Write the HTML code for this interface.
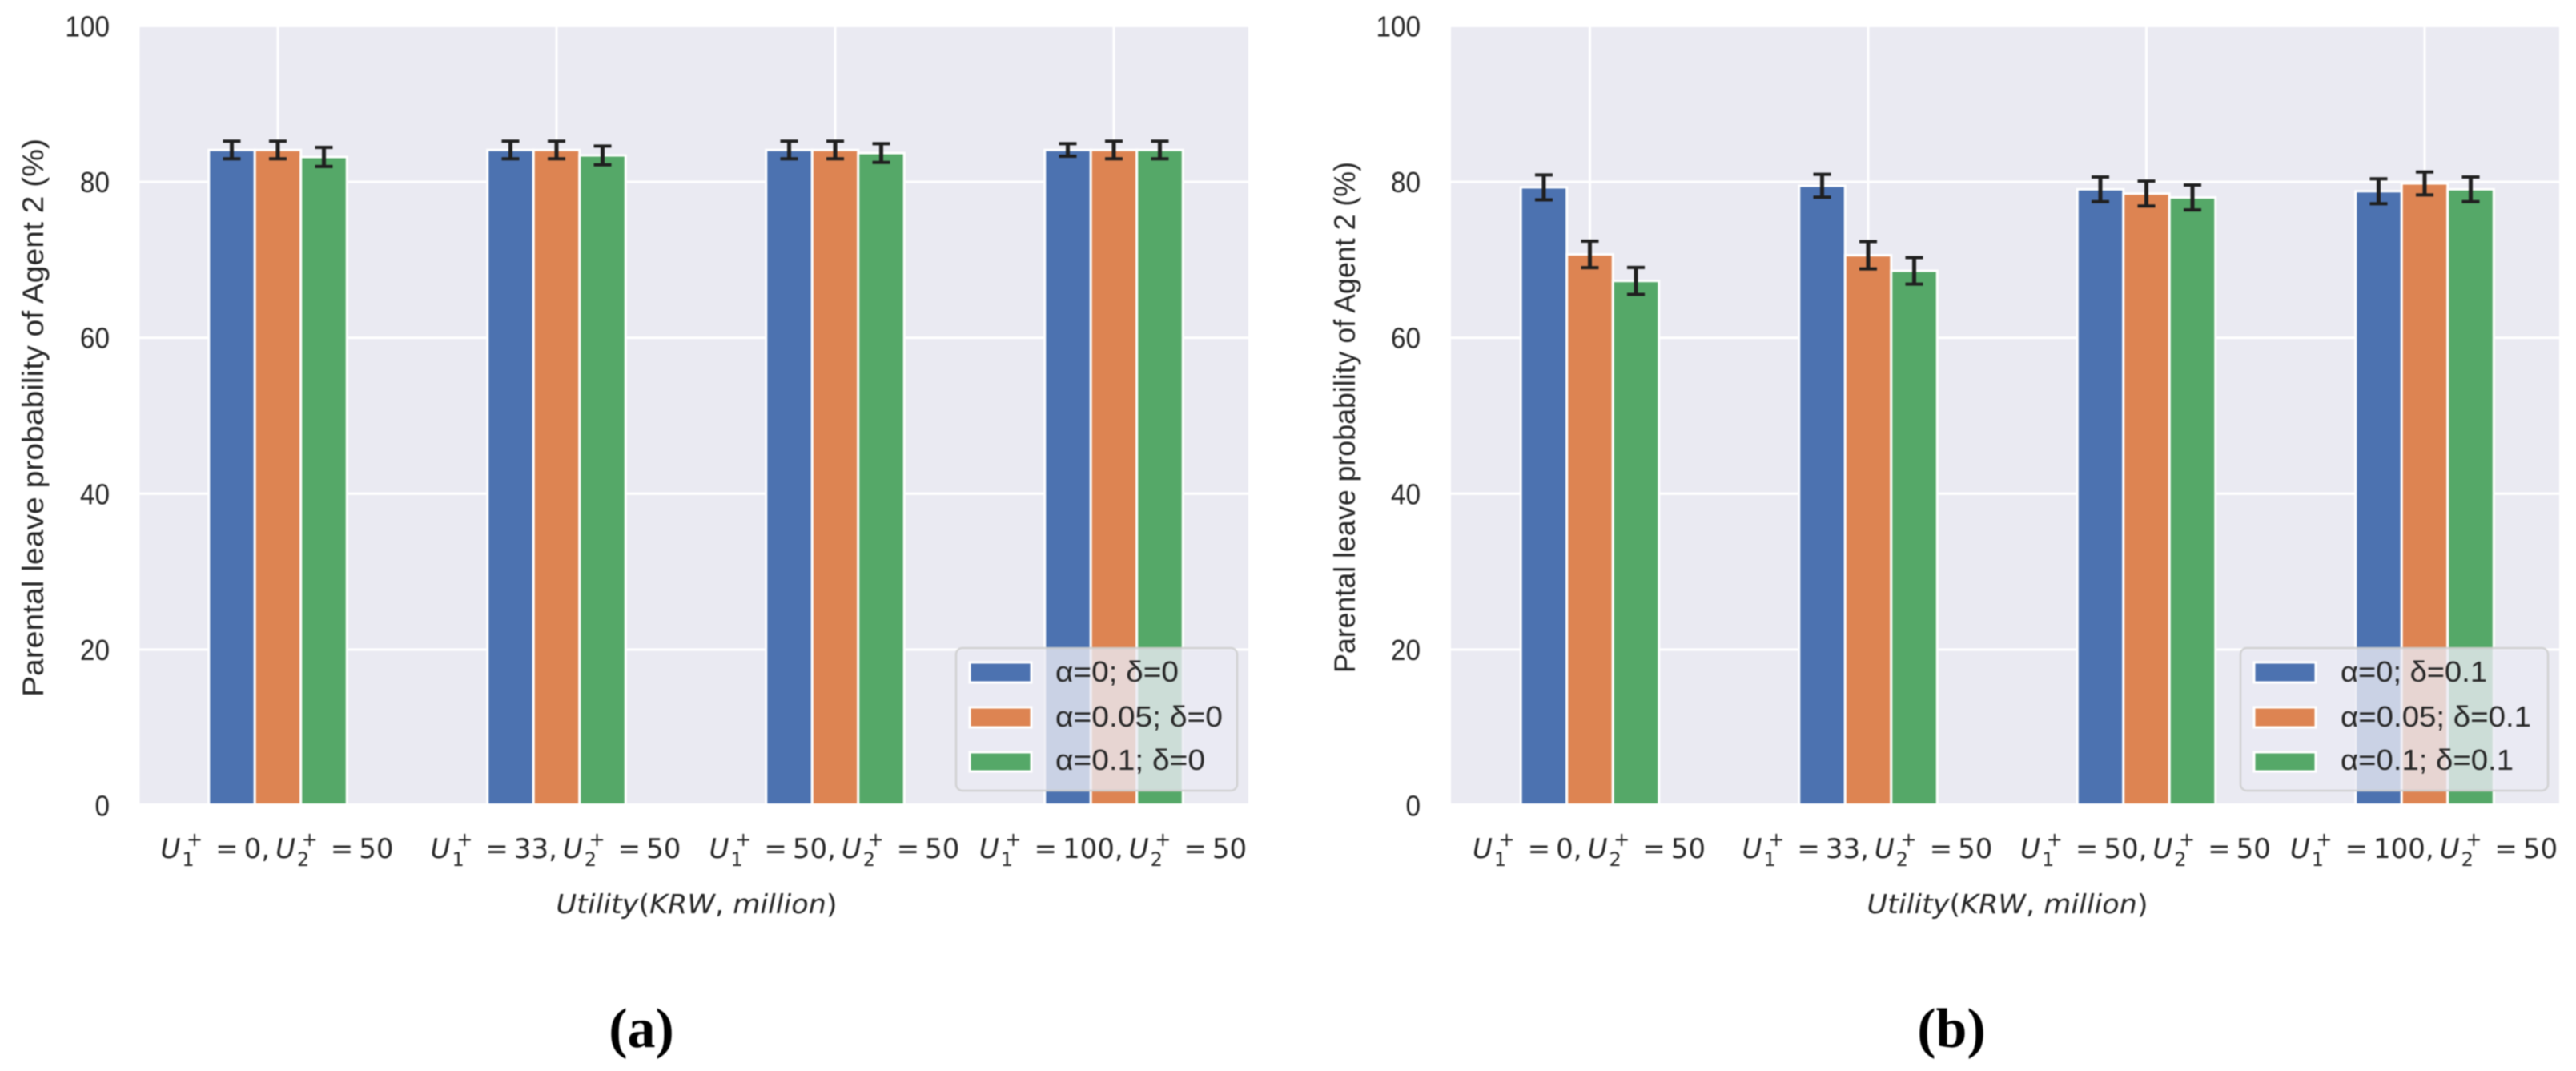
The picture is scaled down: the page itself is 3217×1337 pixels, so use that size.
<!DOCTYPE html>
<html lang="en">
<head>
<meta charset="utf-8">
<title>Parental leave probability of Agent 2</title>
<style>
html,body{margin:0;padding:0;background:#fff;width:3217px;height:1337px;overflow:hidden}
svg{display:block;filter:blur(0.9px)}
.sans{font-family:"Liberation Sans",Arial,sans-serif;fill:#262626}
.deja{font-family:"DejaVu Sans",sans-serif;fill:#262626}
.cap{font-family:"Liberation Serif",serif;font-weight:bold;fill:#000;font-size:70px}
.leg{font-size:36px}
.yt{font-size:37px}
</style>
</head>
<body>
<svg id="fig" xmlns="http://www.w3.org/2000/svg" width="3217" height="1337" viewBox="0 0 3217 1337">
  <defs>
    <clipPath id="clip-a"><rect x="174.5" y="33" width="1384.5" height="970"/></clipPath>
    <clipPath id="clip-b"><rect x="1812" y="33" width="1384" height="970"/></clipPath>
  </defs>

  <g id="panel-a">
    <g id="plot-a"></g>
    <g>
      <rect x="1194" y="809" width="351" height="178" rx="8" fill="#eaeaf2" fill-opacity="0.8" stroke="#cccccc" stroke-opacity="0.85" stroke-width="2.5"/>
      <rect x="1211" y="827" width="77" height="25" fill="#4c72b0" stroke="#fff" stroke-width="3"/>
      <rect x="1211" y="883" width="77" height="25" fill="#dd8452" stroke="#fff" stroke-width="3"/>
      <rect x="1211" y="939" width="77" height="24" fill="#55a868" stroke="#fff" stroke-width="3"/>
      <text class="sans leg" x="1318" y="851" textLength="154" lengthAdjust="spacingAndGlyphs">α=0; δ=0</text>
      <text class="sans leg" x="1318" y="907" textLength="209" lengthAdjust="spacingAndGlyphs">α=0.05; δ=0</text>
      <text class="sans leg" x="1318" y="961" textLength="187" lengthAdjust="spacingAndGlyphs">α=0.1; δ=0</text>
    </g>
    <text class="sans yt" transform="translate(54,870) rotate(-90)" x="0" y="0" textLength="697" lengthAdjust="spacingAndGlyphs">Parental leave probability of Agent 2 (%)</text>
    <text class="deja" x="870" y="1140" font-size="33" text-anchor="middle" textLength="351" lengthAdjust="spacingAndGlyphs"><tspan font-style="italic">Utility</tspan>(<tspan font-style="italic">KRW</tspan>, <tspan font-style="italic">million</tspan>)</text>
    <text class="cap" x="801" y="1307" text-anchor="middle">(a)</text>
  </g>

  <g id="panel-b">
    <g id="plot-b"></g>
    <g>
      <rect x="2798" y="809" width="384" height="178" rx="8" fill="#eaeaf2" fill-opacity="0.8" stroke="#cccccc" stroke-opacity="0.85" stroke-width="2.5"/>
      <rect x="2815" y="827" width="77" height="25" fill="#4c72b0" stroke="#fff" stroke-width="3"/>
      <rect x="2815" y="883" width="77" height="25" fill="#dd8452" stroke="#fff" stroke-width="3"/>
      <rect x="2815" y="939" width="77" height="24" fill="#55a868" stroke="#fff" stroke-width="3"/>
      <text class="sans leg" x="2923" y="851" textLength="183" lengthAdjust="spacingAndGlyphs">α=0; δ=0.1</text>
      <text class="sans leg" x="2923" y="907" textLength="238" lengthAdjust="spacingAndGlyphs">α=0.05; δ=0.1</text>
      <text class="sans leg" x="2923" y="961" textLength="216" lengthAdjust="spacingAndGlyphs">α=0.1; δ=0.1</text>
    </g>
    <text class="sans yt" transform="translate(1692,840) rotate(-90)" x="0" y="0" textLength="638" lengthAdjust="spacingAndGlyphs">Parental leave probability of Agent 2 (%)</text>
    <text class="deja" x="2507" y="1140" font-size="33" text-anchor="middle" textLength="351" lengthAdjust="spacingAndGlyphs"><tspan font-style="italic">Utility</tspan>(<tspan font-style="italic">KRW</tspan>, <tspan font-style="italic">million</tspan>)</text>
    <text class="cap" x="2437" y="1307" text-anchor="middle">(b)</text>
  </g>
</svg>

<script>
// Chart data
const categoriesU1 = ['0', '33', '50', '100'];
const categoriesU2 = ['50', '50', '50', '50'];
const yTickValues = [0, 20, 40, 60, 80, 100];

const panelAAlpha0 = [84.1, 84.1, 84.1, 84.1];
const panelAAlpha005 = [84.1, 84.1, 84.1, 84.1];
const panelAAlpha01 = [83.2, 83.4, 83.7, 84.1];
const panelAErrAlpha0 = [1.13, 1.13, 1.13, 0.8];
const panelAErrAlpha005 = [1.13, 1.13, 1.13, 1.13];
const panelAErrAlpha01 = [1.23, 1.2, 1.2, 1.13];

const panelBAlpha0 = [79.3, 79.5, 79.05, 78.8];
const panelBAlpha005 = [70.7, 70.6, 78.5, 79.8];
const panelBAlpha01 = [67.3, 68.6, 78.0, 79.05];
const panelBErrAlpha0 = [1.6, 1.47, 1.58, 1.6];
const panelBErrAlpha005 = [1.7, 1.75, 1.6, 1.47];
const panelBErrAlpha01 = [1.73, 1.7, 1.6, 1.58];

const seriesColors = ['#4c72b0', '#dd8452', '#55a868'];
const seriesKeys = ['alpha-0', 'alpha-0-05', 'alpha-0-1'];

const SVGNS = 'http://www.w3.org/2000/svg';

// Axis functions
function yScale(v) { return 1005.5 - 9.73 * v; }
function xTick(panel, i) { return panel.firstTick + i * panel.tickStep; }
function xBar(panel, i, s) { return xTick(panel, i) + (s - 1) * panel.barWidth; }

function make(tag, attrs) {
  const el = document.createElementNS(SVGNS, tag);
  for (const k in attrs) el.setAttribute(k, attrs[k]);
  return el;
}

function addTspan(text, content, attrs) {
  const t = make('tspan', attrs);
  t.textContent = content;
  text.appendChild(t);
}

function drawTickLabel(group, panel, i) {
  const label = make('text', { class: 'deja', x: xTick(panel, i) - 1, y: 1071, 'font-size': 34, 'text-anchor': 'middle' });
  
  
  addTspan(label, 'U', { 'font-style': 'italic' });
  addTspan(label, '1', { 'font-size': 24, dx: 2, dy: 10 });
  addTspan(label, '+', { 'font-size': 24, dx: -9.6, dy: -25 });
  addTspan(label, '=', { dx: 16, dy: 15 });
  addTspan(label, categoriesU1[i] + ',', { dx: 7 });
  addTspan(label, 'U', { 'font-style': 'italic', dx: 7 });
  addTspan(label, '2', { 'font-size': 24, dx: 2, dy: 10 });
  addTspan(label, '+', { 'font-size': 24, dx: -9.6, dy: -25 });
  addTspan(label, '=', { dx: 16, dy: 15 });
  addTspan(label, categoriesU2[i], { dx: 7 });
  group.appendChild(label);
}

function drawPanel(panel) {
  const root = document.getElementById('plot-' + panel.id);

  const bg = make('rect', { x: panel.left, y: 33, width: panel.right - panel.left, height: 970, fill: '#eaeaf2' });
  
  
  root.appendChild(bg);

  const clipped = make('g', { 'clip-path': 'url(#clip-' + panel.id + ')' });
  
  
  root.appendChild(clipped);

  yTickValues.forEach(function (v) {
    const line = make('line', { x1: panel.left, x2: panel.right, y1: yScale(v), y2: yScale(v), stroke: '#fff', 'stroke-width': 3 });
    
    
    clipped.appendChild(line);

    const label = String(v);
    const tick = make('text', { class: 'sans', x: panel.yLabelRight, y: yScale(v) + 13, 'font-size': 36, 'text-anchor': 'end', textLength: label.length * 18.5, lengthAdjust: 'spacingAndGlyphs' });
    tick.textContent = label;
    
    
    root.appendChild(tick);
  });

  categoriesU1.forEach(function (c, i) {
    const line = make('line', { x1: xTick(panel, i), x2: xTick(panel, i), y1: 33, y2: 1003, stroke: '#fff', 'stroke-width': 3 });
    
    
    clipped.appendChild(line);
  });

  panel.values.forEach(function (series, s) {
    series.forEach(function (v, i) {
      const cx = xBar(panel, i, s);
      const bar = make('rect', {
        x: cx - panel.barWidth / 2, y: yScale(v), width: panel.barWidth,
        height: yScale(0) - yScale(v), fill: seriesColors[s], stroke: '#fff', 'stroke-width': 3
      });
      
      
      clipped.appendChild(bar);
    });
  });

  panel.values.forEach(function (series, s) {
    series.forEach(function (v, i) {
      const cx = xBar(panel, i, s);
      const hi = yScale(v + panel.errors[s][i]);
      const lo = yScale(v - panel.errors[s][i]);
      const eg = make('g', { stroke: '#1f1f1f', fill: 'none' });
      
      
      eg.appendChild(make('line', { x1: cx, x2: cx, y1: hi, y2: lo, 'stroke-width': 5 }));
      eg.appendChild(make('line', { x1: cx - 11, x2: cx + 11, y1: hi, y2: hi, 'stroke-width': 4 }));
      eg.appendChild(make('line', { x1: cx - 11, x2: cx + 11, y1: lo, y2: lo, 'stroke-width': 4 }));
      clipped.appendChild(eg);
    });
  });

  categoriesU1.forEach(function (c, i) { drawTickLabel(root, panel, i); });
}

drawPanel({
  id: 'a', left: 174.5, right: 1559, firstTick: 347, tickStep: 348, barWidth: 57.5, yLabelRight: 137,
  values: [panelAAlpha0, panelAAlpha005, panelAAlpha01],
  errors: [panelAErrAlpha0, panelAErrAlpha005, panelAErrAlpha01]
});
drawPanel({
  id: 'b', left: 1812, right: 3196, firstTick: 1985.5, tickStep: 347.5, barWidth: 57.5, yLabelRight: 1774,
  values: [panelBAlpha0, panelBAlpha005, panelBAlpha01],
  errors: [panelBErrAlpha0, panelBErrAlpha005, panelBErrAlpha01]
});
</script>
</body>
</html>
